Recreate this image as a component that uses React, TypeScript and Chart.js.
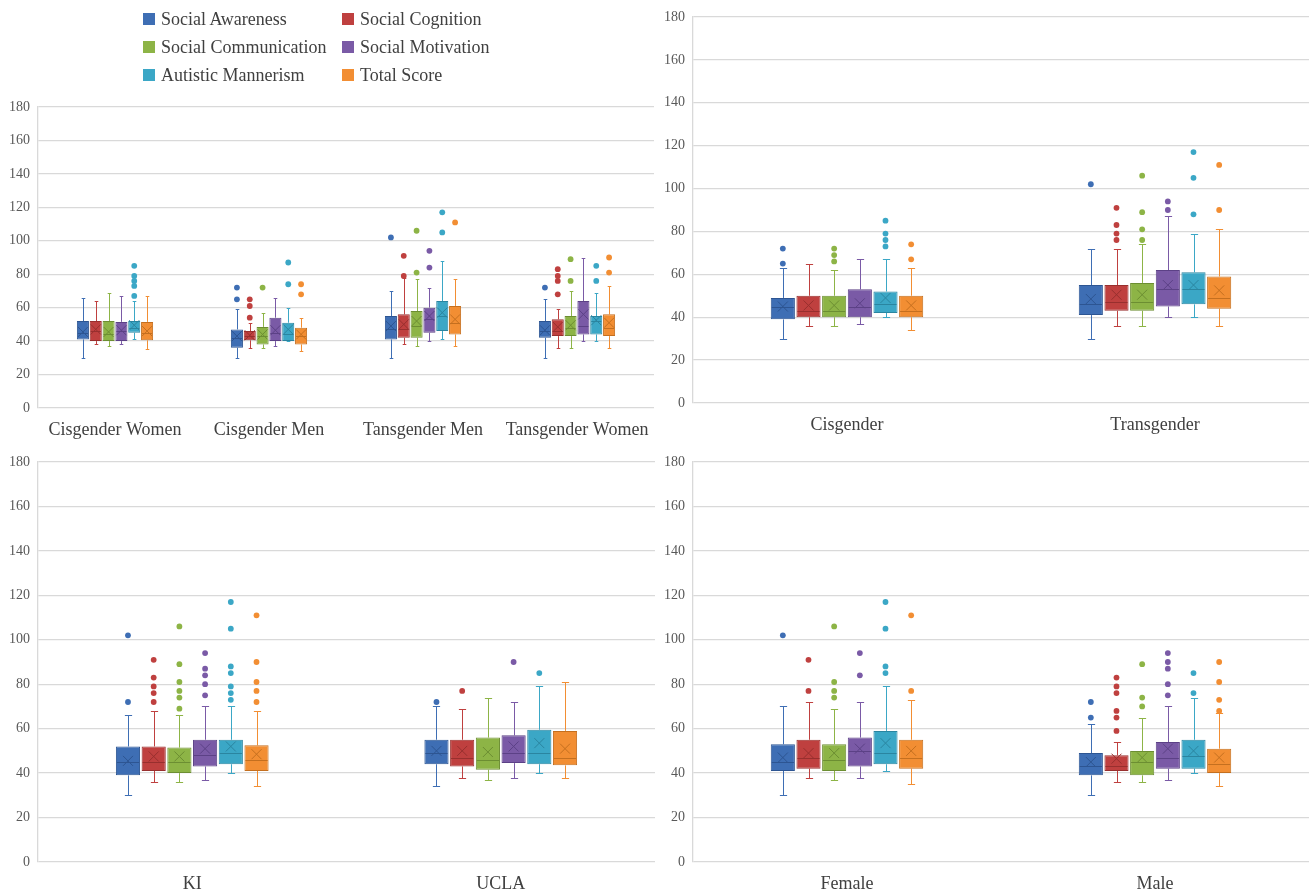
import React, { useEffect, useRef } from "react";
import { Chart, registerables } from "chart.js";

Chart.register(...registerables);

type Box = { min: number; q1: number; med: number; q3: number; max: number; mean: number; out: number[] };
const b = (min: number, q1: number, med: number, q3: number, max: number, mean: number, out: number[] = []): Box => ({ min, q1, med, q3, max, mean, out });

// ---- series ----
const seriesNames = ["Social Awareness", "Social Cognition", "Social Communication", "Social Motivation", "Autistic Mannerism", "Total Score"];
const seriesColors = ["#3E6EB4", "#BF403F", "#8DB446", "#7A5AA6", "#3BA7C6", "#F28E33"];
const seriesDark = ["#2D5592", "#982F2E", "#6C8E32", "#5C4186", "#2A85A0", "#C46F1F"];

// ---- panel 1: gender identity ----
const identityCats = ["Cisgender Women", "Cisgender Men", "Tansgender Men", "Tansgender Women"];
const identityAwareness = [b(30, 41, 45, 52, 66, 45.5), b(30, 36, 42, 47, 59, 43, [65, 72]), b(30, 41, 47, 55, 70, 49, [102]), b(30, 42, 46, 52, 65, 46.5, [72])];
const identityCognition = [b(38, 40, 46, 52, 64, 47), b(36, 40.5, 43, 46, 51, 43.5, [54, 61, 65]), b(38, 42, 47, 56, 78, 50, [79, 91]), b(36, 43, 46, 53, 59, 48.5, [68, 76, 79, 83])];
const identityCommunication = [b(37, 40, 44, 52, 69, 45.5), b(36, 38, 43, 48.5, 57, 44, [72]), b(37, 42, 49, 58, 77, 52, [81, 106]), b(36, 43, 48, 55, 70, 49.5, [76, 89])];
const identityMotivation = [b(38, 40, 46, 51.5, 67, 46.5), b(37, 40, 45, 54, 66, 46.5), b(40, 45, 53, 60, 72, 55, [84, 94]), b(40, 44, 49, 64, 90, 56)];
const identityMannerism = [b(41, 45, 48, 52, 64, 49.5, [67, 73, 76, 79, 85]), b(40, 40, 44, 51, 60, 47, [74, 87]), b(41, 46, 55, 64, 88, 57, [105, 117]), b(40, 44, 52, 55, 69, 52.5, [76, 85])];
const identityTotal = [b(35, 40.5, 45, 51.5, 67, 46), b(34, 38, 43, 48, 54, 44, [68, 74]), b(37, 44, 51, 61, 77, 53, [111]), b(36, 43, 48, 56, 73, 51, [81, 90])];

// ---- panel 2: cis / trans ----
const groupCats = ["Cisgender", "Transgender"];
const groupAwareness = [b(30, 39, 45, 49, 63, 45, [65, 72]), b(30, 41, 46, 55, 72, 48.5, [102])];
const groupCognition = [b(36, 40, 43, 50, 65, 45.5), b(36, 43, 47, 55, 72, 50.5, [76, 79, 83, 91])];
const groupCommunication = [b(36, 40, 43, 50, 62, 45.5, [66, 69, 72]), b(36, 43, 47, 56, 74, 50.5, [76, 81, 89, 106])];
const groupMotivation = [b(37, 40, 45, 53, 67, 46.5), b(40, 45, 53, 62, 87, 55, [90, 94])];
const groupMannerism = [b(40, 42, 46, 52, 67, 49, [73, 76, 79, 85]), b(40, 46, 53, 61, 79, 55, [88, 105, 117])];
const groupTotal = [b(34, 40, 43, 50, 63, 45.5, [67, 74]), b(36, 44, 49, 59, 81, 52.5, [90, 111])];

// ---- panel 3: site ----
const siteCats = ["KI", "UCLA"];
const siteAwareness = [b(30, 39, 45, 52, 66, 45.5, [72, 102]), b(34, 44, 49, 55, 70, 50, [72])];
const siteCognition = [b(36, 41, 45, 52, 68, 47.5, [72, 76, 79, 83, 91]), b(38, 43, 47, 55, 69, 50, [77])];
const siteCommunication = [b(36, 40, 45, 51.5, 66, 47.5, [69, 74, 77, 81, 89, 106]), b(37, 41.5, 46, 56, 74, 49.5)];
const siteMotivation = [b(37, 43, 48, 55, 70, 51, [75, 80, 84, 87, 94]), b(38, 44.5, 49, 57, 72, 52, [90])];
const siteMannerism = [b(40, 44, 49, 55, 70, 52, [73, 76, 79, 85, 88, 105, 117]), b(40, 44, 49, 59.5, 79, 53.5, [85])];
const siteTotal = [b(34, 41, 46, 52.5, 68, 48.5, [72, 77, 81, 90, 111]), b(38, 43.5, 47, 59, 81, 51)];

// ---- panel 4: sex ----
const sexCats = ["Female", "Male"];
const sexAwareness = [b(30, 41, 45, 53, 70, 47, [102]), b(30, 39, 43, 49, 62, 45, [65, 72])];
const sexCognition = [b(38, 42, 47, 55, 72, 49, [77, 91]), b(36, 41, 43, 48, 54, 46.5, [59, 65, 68, 76, 79, 83])];
const sexCommunication = [b(37, 41, 46, 53, 69, 49, [74, 77, 81, 106]), b(36, 39, 45, 50, 65, 47, [70, 74, 89])];
const sexMotivation = [b(38, 43, 50, 56, 72, 51, [84, 94]), b(37, 42, 47, 54, 70, 51, [75, 80, 87, 90, 94])];
const sexMannerism = [b(41, 44, 49, 59, 79, 53.5, [85, 88, 105, 117]), b(40, 42, 47.5, 55, 74, 50, [76, 85])];
const sexTotal = [b(35, 42, 47, 55, 73, 50, [77, 111]), b(34, 40, 44, 51, 67, 47, [68, 73, 81, 90])];

const yTicksMin = 0;
const yTicksMax = 180;
const yTicksStep = 20;

const FONT = "'Liberation Serif', 'Times New Roman', serif";

const boxPlugin = {
  id: "boxExtras",
  beforeDatasetsDraw(chart: any) {
    const ctx = chart.ctx;
    const ys = chart.scales.y;
    chart.data.datasets.forEach((ds: any, di: number) => {
      const meta = chart.getDatasetMeta(di);
      meta.data.forEach((el: any, i: number) => {
        const s: Box = ds.stats[i];
        const { x, width } = el.getProps(["x", "width"], true);
        const cx = Math.round(x) + 0.5;
        const cap = Math.max(3.5, width * 0.3);
        ctx.save();
        ctx.strokeStyle = ds.whisker;
        ctx.lineWidth = 1;
        const pMax = Math.round(ys.getPixelForValue(s.max)) + 0.5;
        const pMin = Math.round(ys.getPixelForValue(s.min)) + 0.5;
        ctx.beginPath();
        ctx.moveTo(cx, ys.getPixelForValue(s.q3));
        ctx.lineTo(cx, pMax);
        ctx.moveTo(cx - cap / 2, pMax);
        ctx.lineTo(cx + cap / 2, pMax);
        ctx.moveTo(cx, ys.getPixelForValue(s.q1));
        ctx.lineTo(cx, pMin);
        ctx.moveTo(cx - cap / 2, pMin);
        ctx.lineTo(cx + cap / 2, pMin);
        ctx.stroke();
        ctx.restore();
      });
    });
  },
  afterDatasetsDraw(chart: any) {
    const ctx = chart.ctx;
    const ys = chart.scales.y;
    chart.data.datasets.forEach((ds: any, di: number) => {
      const meta = chart.getDatasetMeta(di);
      meta.data.forEach((el: any, i: number) => {
        const s: Box = ds.stats[i];
        const { x, width } = el.getProps(["x", "width"], true);
        ctx.save();
        ctx.strokeStyle = ds.dark;
        ctx.lineWidth = 1;
        // median
        const pm = Math.round(ys.getPixelForValue(s.med)) + 0.5;
        ctx.beginPath();
        ctx.moveTo(x - width / 2 + 1, pm);
        ctx.lineTo(x + width / 2 - 1, pm);
        ctx.stroke();
        // mean X
        const h = Math.min(5, width * 0.42);
        const py = ys.getPixelForValue(s.mean);
        ctx.beginPath();
        ctx.moveTo(x - h, py - h);
        ctx.lineTo(x + h, py + h);
        ctx.moveTo(x - h, py + h);
        ctx.lineTo(x + h, py - h);
        ctx.stroke();
        // outliers
        ctx.fillStyle = ds.backgroundColor;
        s.out.forEach((v) => {
          ctx.beginPath();
          ctx.arc(x, ys.getPixelForValue(v), 2.9, 0, Math.PI * 2);
          ctx.fill();
        });
        ctx.restore();
      });
    });
  },
};

type PanelProps = {
  left: number; top: number; width: number; height: number;
  padTop: number; padRight: number; xHeight: number;
  cats: string[]; series: Box[][];
};

function Panel(p: PanelProps) {
  const ref = useRef<HTMLCanvasElement>(null);
  useEffect(() => {
    if (!ref.current) return;
    const chart = new Chart(ref.current, {
      type: "bar",
      data: {
        labels: p.cats,
        datasets: p.series.map((arr, k) => ({
          label: seriesNames[k],
          data: arr.map((s) => [s.q1, s.q3]),
          stats: arr,
          dark: seriesDark[k],
          whisker: seriesColors[k],
          backgroundColor: seriesColors[k],
          borderColor: seriesDark[k],
          borderWidth: 1,
          borderSkipped: false,
          categoryPercentage: 0.5,
          barPercentage: 0.94,
        })) as any,
      },
      options: {
        animation: false,
        responsive: true,
        maintainAspectRatio: false,
        layout: { padding: { top: p.padTop, right: p.padRight, left: 0, bottom: 0 } },
        plugins: { legend: { display: false }, tooltip: { enabled: false } },
        scales: {
          x: {
            grid: { display: false, drawTicks: false },
            border: { display: false },
            ticks: { font: { family: FONT, size: 18 }, color: "#404040", padding: 11, maxRotation: 0, autoSkip: false },
            afterFit: (s: any) => { s.height = p.xHeight; },
          },
          y: {
            min: yTicksMin,
            max: yTicksMax,
            ticks: { stepSize: yTicksStep, font: { family: FONT, size: 14 }, color: "#595959", padding: 8 },
            grid: { color: "#D9D9D9", drawTicks: false, lineWidth: 1.3 },
            border: { display: true, color: "#D9D9D9", width: 1.3 },
            afterFit: (s: any) => { s.width = 38; },
          },
        },
      } as any,
      plugins: [boxPlugin],
    });
    return () => chart.destroy();
  }, []);
  return (
    <div style={{ position: "absolute", left: p.left, top: p.top, width: p.width, height: p.height }}>
      <canvas ref={ref} />
    </div>
  );
}

function Legend() {
  const pos = [
    [143, 19], [342, 19],
    [143, 47], [342, 47],
    [143, 75], [342, 75],
  ];
  return (
    <>
      {seriesNames.map((n, k) => (
        <div key={n} style={{ position: "absolute", left: pos[k][0], top: pos[k][1] - 12, height: 24, display: "flex", alignItems: "center", fontFamily: FONT, fontSize: 18, color: "#404040", whiteSpace: "nowrap" }}>
          <span style={{ display: "inline-block", width: 12, height: 12, background: seriesColors[k], marginRight: 6 }} />
          <span>{n}</span>
        </div>
      ))}
    </>
  );
}

export default function App() {
  return (
    <div style={{ position: "absolute", left: 0, top: 0, width: 1309, height: 895, background: "#fff", overflow: "hidden" }}>
      <Panel left={0} top={0} width={660} height={445} padTop={107} padRight={5} xHeight={37} cats={identityCats}
        series={[identityAwareness, identityCognition, identityCommunication, identityMotivation, identityMannerism, identityTotal]} />
      <Legend />
      <Panel left={655} top={0} width={654} height={445} padTop={17} padRight={0} xHeight={42} cats={groupCats}
        series={[groupAwareness, groupCognition, groupCommunication, groupMotivation, groupMannerism, groupTotal]} />
      <Panel left={0} top={445} width={660} height={450} padTop={17} padRight={5} xHeight={33} cats={siteCats}
        series={[siteAwareness, siteCognition, siteCommunication, siteMotivation, siteMannerism, siteTotal]} />
      <Panel left={655} top={445} width={654} height={450} padTop={17} padRight={0} xHeight={33} cats={sexCats}
        series={[sexAwareness, sexCognition, sexCommunication, sexMotivation, sexMannerism, sexTotal]} />
    </div>
  );
}
